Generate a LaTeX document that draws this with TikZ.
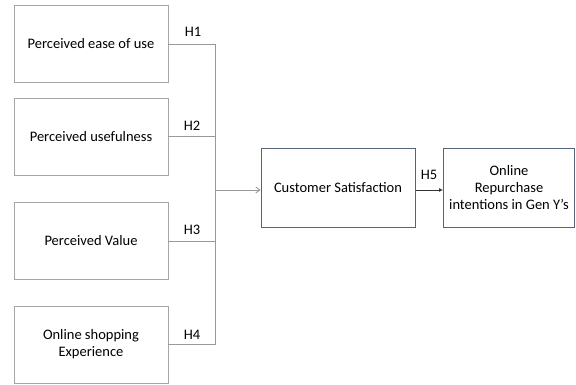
\documentclass[tikz,border=0pt]{standalone}
\usepackage{fontspec}
\setmainfont{Carlito}
\usetikzlibrary{arrows.meta}
\definecolor{boxgray}{HTML}{A6A6A6}
\definecolor{slate}{HTML}{56647A}
\begin{document}
\begin{tikzpicture}[x=1pt,y=-1pt,
  factor/.style={draw=boxgray, line width=0.9pt, minimum width=154pt, minimum height=77pt,
    align=center, font=\fontsize{14.5}{17}\selectfont, inner sep=2pt},
  outcome/.style={draw=slate, line width=1pt, minimum height=78pt,
    align=center, font=\fontsize{14.5}{17}\selectfont, inner sep=2pt},
  link/.style={draw=black!40, line width=0.9pt},
  hlabel/.style={font=\fontsize{14.5}{17}\selectfont, inner sep=0pt}
]
\useasboundingbox (0,0) rectangle (576,385);
% predictor boxes
\node[factor] (f1) at (91,43.5) {Perceived ease of use};
\node[factor] (f2) at (91,136.5) {Perceived usefulness};
\node[factor] (f3) at (91,240.5) {Perceived Value};
\node[factor] (f4) at (91,344.5) {Online shopping\\Experience};
% outcome boxes
\node[outcome, minimum width=154pt] (cs) at (338,188) {Customer Satisfaction};
\node[outcome, minimum width=131pt] (ri) at (509,188) {Online\\Repurchase\\intentions in Gen Y’s};
% collector bus
\coordinate (t) at (215,44);
\coordinate (b) at (215,344);
\coordinate (m) at (215,190);
\draw[link] (f1.east |- t) -- (t) -- (b) -- (f4.east |- b);
\draw[link] (f2.east |- 0,136) -- (215,136);
\draw[link] (f3.east |- 0,241) -- (215,241);
\draw[link, -{Straight Barb[length=4pt,width=6pt]}] (m) -- (cs.west |- m);
\draw[line width=0.8pt, black!80, -{Latex[length=4pt,width=4pt]}] (cs.east |- m) -- (ri.west |- m);
% hypothesis labels
\node[hlabel] (h1) at (193,32) {H1};
\node[hlabel] (h2) at (192,126) {H2};
\node[hlabel] (h3) at (192,230) {H3};
\node[hlabel] (h4) at (192,335) {H4};
\node[hlabel] (h5) at (429,175) {H5};
\end{tikzpicture}
\end{document}
